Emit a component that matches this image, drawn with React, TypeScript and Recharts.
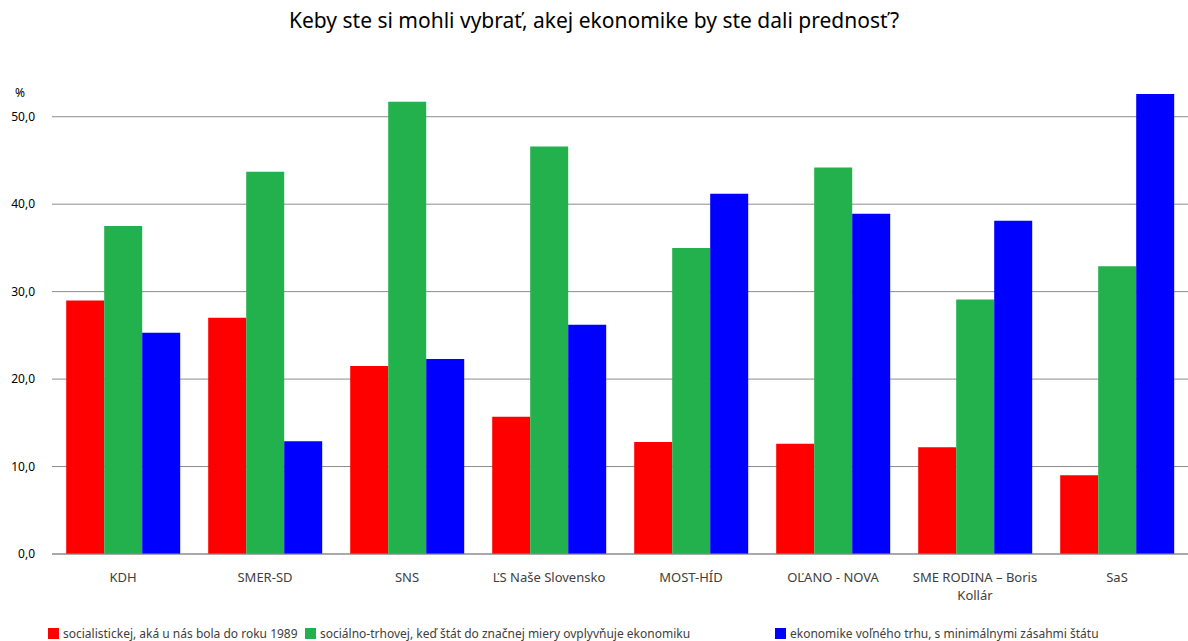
import { Bar, BarChart, CartesianGrid, Legend, Text, XAxis, YAxis } from 'recharts'

const parties = ['KDH', 'SMER-SD', 'SNS', 'ĽS Naše Slovensko', 'MOST-HÍD', 'OĽANO - NOVA', 'SME RODINA – Boris Kollár', 'SaS']
const socialist = [29.0, 27.0, 21.5, 15.7, 12.8, 12.6, 12.2, 9.0]
const socialMarket = [37.5, 43.7, 51.7, 46.6, 35.0, 44.2, 29.1, 32.9]
const freeMarket = [25.3, 12.9, 22.3, 26.2, 41.2, 38.9, 38.1, 52.6]
const yTicks = [0, 10, 20, 30, 40, 50]

const series = [
  { key: 'socialist', name: 'socialistickej, aká u nás bola do roku 1989', color: '#ff0000' },
  { key: 'socialMarket', name: 'sociálno-trhovej, keď štát do značnej miery ovplyvňuje ekonomiku', color: '#22b14c' },
  { key: 'freeMarket', name: 'ekonomike voľného trhu, s minimálnymi zásahmi štátu', color: '#0000ff' },
]
// where each legend swatch starts in the original
const legendLeft = [48, 305, 775]

const data = parties.map((party, i) => ({
  party,
  socialist: socialist[i],
  socialMarket: socialMarket[i],
  freeMarket: freeMarket[i],
}))

const font = '"Noto Sans", sans-serif'

function PartyTick(props: any) {
  const { x, y, payload } = props
  return (
    <Text
      x={x}
      y={y + 11}
      width={165}
      textAnchor="middle"
      verticalAnchor="start"
      lineHeight={18}
      fontSize={13}
      fill="#404040"
      fontFamily={font}
    >
      {payload.value}
    </Text>
  )
}

function LegendContent() {
  return (
    <div style={{ position: 'relative', height: 21, fontFamily: font, fontSize: 12, color: '#404040' }}>
      {series.map((s, i) => (
        <div key={s.key} style={{ position: 'absolute', left: legendLeft[i], top: 5, display: 'flex', alignItems: 'center', whiteSpace: 'nowrap' }}>
          <span style={{ width: 11, height: 11, background: s.color, marginRight: 4, display: 'inline-block' }} />
          {s.name}
        </div>
      ))}
    </div>
  )
}

export default function App() {
  return (
    <div style={{ position: 'absolute', left: 0, top: 0, width: 1188, height: 641, background: '#fff' }}>
      <div style={{ position: 'absolute', top: 6, width: 1188, textAlign: 'center', fontFamily: font, fontSize: 21, color: '#000' }}>
        Keby ste si mohli vybrať, akej ekonomike by ste dali prednosť?
      </div>
      <div style={{ position: 'absolute', left: 15, top: 84, fontFamily: font, fontSize: 12, color: '#000' }}>%</div>
      <BarChart width={1188} height={641} data={data} margin={{ top: 73, right: 0, bottom: 0, left: 0 }} barCategoryGap="10%" barGap={0}>
        <CartesianGrid vertical={false} stroke="#8c8c8c" horizontalValues={yTicks} />
        <XAxis dataKey="party" tick={<PartyTick />} tickLine={false} stroke="#8c8c8c" interval={0} height={66} />
        <YAxis
          domain={[0, 55]}
          ticks={yTicks}
          width={52}
          axisLine={false}
          tickLine={false}
          tickMargin={11}
          tickFormatter={(v: number) => v.toFixed(1).replace('.', ',')}
          tick={{ fontSize: 12, fill: '#000', fontFamily: font }}
        />
        <Legend content={<LegendContent />} verticalAlign="bottom" wrapperStyle={{ bottom: 0, height: 21 }} />
        {series.map((s) => (
          <Bar key={s.key} dataKey={s.key} name={s.name} fill={s.color} isAnimationActive={false} />
        ))}
      </BarChart>
    </div>
  )
}
